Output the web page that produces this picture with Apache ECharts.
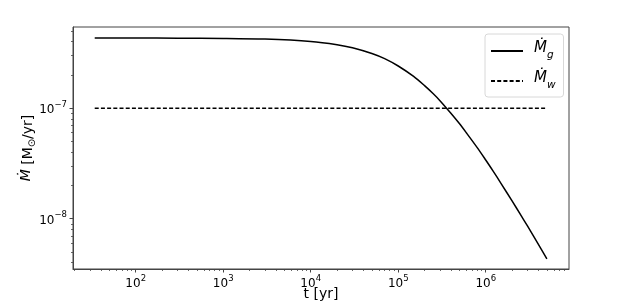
<!DOCTYPE html>
<html>
<head>
<meta charset="utf-8">
<script src="https://cdn.jsdelivr.net/npm/echarts@6/dist/echarts.min.js"></script>
<style>html,body{margin:0;padding:0;background:#fff}#c{width:622px;height:304px}</style>
</head>
<body>
<div id="c"></div>
<script>
// time [yr]
var tValues = [34, 100, 300, 1000, 3000, 10000, 20000, 30000, 50000, 70000, 100000, 150000, 200000, 250000, 300000, 400000, 500000, 600000, 800000, 1000000, 1200000, 1500000, 2000000, 2500000, 3000000, 4000000, 5000000];
// Mdot_g [Msun/yr]
var mgValues = [4.315e-7, 4.31e-7, 4.305e-7, 4.284e-7, 4.22e-7, 4.02e-7, 3.76e-7, 3.53e-7, 3.13e-7, 2.81e-7, 2.41e-7, 1.94e-7, 1.60e-7, 1.357e-7, 1.17e-7, 9.0e-8, 7.26e-8, 6.0e-8, 4.4e-8, 3.4e-8, 2.74e-8, 2.08e-8, 1.45e-8, 1.09e-8, 8.6e-9, 5.86e-9, 4.34e-9];
// Mdot_w [Msun/yr]
var mwT = [34, 5000000];
var mwValues = [1e-7, 1e-7];
// tick positions
var xMajor = [1e2, 1e3, 1e4, 1e5, 1e6];
var xMinor = [20,30,40,50,60,70,80,90,200,300,400,500,600,700,800,900,2000,3000,4000,5000,6000,7000,8000,9000,20000,30000,40000,50000,60000,70000,80000,90000,200000,300000,400000,500000,600000,700000,800000,900000,2000000,3000000,4000000,5000000,6000000,7000000,8000000];
var yMajor = [1e-8, 1e-7];
var yMinor = [4e-9,5e-9,6e-9,7e-9,8e-9,9e-9,2e-8,3e-8,4e-8,5e-8,6e-8,7e-8,8e-8,9e-8,2e-7,3e-7,4e-7,5e-7];
var xMin = 19.2, xMax = 8.95e6, yMin = 3.51e-9, yMax = 5.43e-7;

var FONT = '"DejaVu Sans", sans-serif';
function pow10Label(v) {
  var e = Math.round(Math.log10(v));
  return '{b|10}{s|' + String(e).replace('-', '\u2212') + '}';
}
var labelRich = {
  b: {fontSize: 12, fontFamily: FONT, color: '#000', lineHeight: 16, verticalAlign: 'bottom'},
  s: {fontSize: 8.5, fontFamily: FONT, color: '#000', lineHeight: 10, verticalAlign: 'top'}
};
var spine = '#444';
var chart = echarts.init(document.getElementById('c'));
chart.setOption({
  animation: false,
  grid: {left: 73, right: 53, top: 27, bottom: 35, show: true, borderColor: spine, borderWidth: 1, containLabel: false, outerBoundsMode: 'none'},
  xAxis: [{
    type: 'log', min: xMin, max: xMax, gridIndex: 0,
    axisLine: {show: true, lineStyle: {color: spine, width: 1}},
    axisTick: {show: true, length: 3.5, inside: false, customValues: xMajor, lineStyle: {color: spine, width: 1}},
    axisLabel: {show: true, margin: 5, customValues: xMajor, formatter: pow10Label, rich: labelRich},
    splitLine: {show: false}, minorTick: {show: false},
    name: 't [yr]', nameLocation: 'middle', nameGap: 18, nameMoveOverlap: false,
    nameTextStyle: {fontSize: 14, fontFamily: FONT, color: '#000'}
  }, {
    type: 'log', min: xMin, max: xMax, gridIndex: 0, position: 'bottom',
    axisLine: {show: false},
    axisTick: {show: true, length: 2, customValues: xMinor, lineStyle: {color: spine, width: 0.8}},
    axisLabel: {show: false}, splitLine: {show: false}
  }],
  yAxis: [{
    type: 'log', min: yMin, max: yMax, gridIndex: 0,
    axisLine: {show: true, lineStyle: {color: spine, width: 1}},
    axisTick: {show: true, length: 3.5, customValues: yMajor, lineStyle: {color: spine, width: 1}},
    axisLabel: {show: true, margin: 6, customValues: yMajor, formatter: pow10Label, rich: labelRich},
    splitLine: {show: false}, minorTick: {show: false},
    name: '{i|\u1E40} [M{sub|\u2299}/yr]', nameLocation: 'middle', nameGap: 36, nameRotate: 90, nameMoveOverlap: false,
    nameTextStyle: {fontSize: 14, fontFamily: FONT, color: '#000',
      rich: {
        i: {fontSize: 14, fontFamily: FONT, fontStyle: 'italic', color: '#000', lineHeight: 18, verticalAlign: 'top'},
        sub: {fontSize: 10, fontFamily: FONT, color: '#000', lineHeight: 10, verticalAlign: 'bottom'}
      }}
  }, {
    type: 'log', min: yMin, max: yMax, gridIndex: 0, position: 'left',
    axisLine: {show: false},
    axisTick: {show: true, length: 2, customValues: yMinor, lineStyle: {color: spine, width: 0.8}},
    axisLabel: {show: false}, splitLine: {show: false}
  }],
  legend: {
    left: 485, top: 34, orient: 'vertical',
    itemWidth: 32, itemHeight: 14, itemGap: 10,
    padding: [7, 8, 6, 5],
    borderColor: '#d8d8d8', borderWidth: 1, borderRadius: 3,
    backgroundColor: 'rgba(255,255,255,0.8)',
    itemStyle: {opacity: 0},
    lineStyle: {opacity: 1},
    formatter: function (n) { return n === 'Mg' ? '{i|\u1E40}{s|g}' : '{i|\u1E40}{s|w}'; },
    textStyle: {
      fontSize: 15, fontFamily: FONT,
      rich: {
        i: {fontSize: 15, fontFamily: FONT, fontStyle: 'italic', color: '#000', lineHeight: 20, verticalAlign: 'top', padding: [0, 0, 0, 6]},
        s: {fontSize: 10.5, fontFamily: FONT, fontStyle: 'italic', color: '#000', lineHeight: 10, verticalAlign: 'bottom'}
      }
    },
    data: ['Mg', 'Mw']
  },
  series: [{
    name: 'Mg', type: 'line', xAxisIndex: 0, yAxisIndex: 0, showSymbol: false, symbol: 'none', smooth: 0.3,
    lineStyle: {color: '#000', width: 1.5, type: 'solid'}, itemStyle: {color: '#000'},
    data: tValues.map(function (t, i) { return [t, mgValues[i]]; })
  }, {
    name: 'Mw', type: 'line', xAxisIndex: 0, yAxisIndex: 0, showSymbol: false, symbol: 'none',
    lineStyle: {color: '#000', width: 1.5, type: [4, 2.2]}, itemStyle: {color: '#000'},
    data: mwT.map(function (t, i) { return [t, mwValues[i]]; })
  }]
});
</script>
</body>
</html>
